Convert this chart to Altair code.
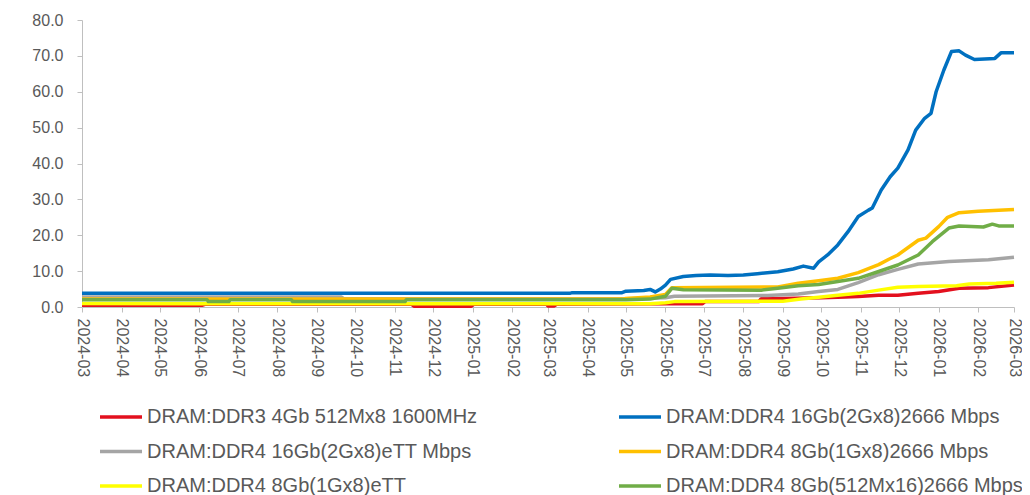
import altair as alt
import pandas as pd

SERIES = [
    "DRAM:DDR3 4Gb 512Mx8 1600MHz",
    "DRAM:DDR4 16Gb(2Gx8)2666 Mbps",
    "DRAM:DDR4 16Gb(2Gx8)eTT Mbps",
    "DRAM:DDR4 8Gb(1Gx8)2666 Mbps",
    "DRAM:DDR4 8Gb(1Gx8)eTT",
    "DRAM:DDR4 8Gb(512Mx16)2666 Mbps",
]
COLORS = ["#E3101E", "#0070C0", "#A5A5A5", "#FFC000", "#FFFF00", "#70AD47"]
# legend is filled column by column, so list entries so that rows read pairwise
LEGEND_ORDER = [0, 2, 4, 1, 3, 5]

# DDR3 4Gb 512Mx8 1600MHz
RED_DATES = ["2024-03-01", "2024-06-03", "2024-06-06", "2024-11-14", "2024-11-16", "2024-12-31",
             "2025-01-02", "2025-02-28", "2025-03-01", "2025-03-06", "2025-03-08", "2025-06-02",
             "2025-06-04", "2025-06-30", "2025-07-02", "2025-08-13", "2025-08-15", "2025-09-01",
             "2025-10-01", "2025-10-20", "2025-10-30", "2025-11-15", "2025-11-30", "2025-12-16",
             "2026-01-01", "2026-01-17", "2026-02-09", "2026-03-01"]
RED_VALUES = [0.5, 0.5, 0.8, 0.8, 0.2, 0.2,
              0.8, 0.8, 0.3, 0.3, 0.8, 0.9,
              0.9, 0.9, 1.5, 1.5, 2.3, 2.4,
              2.6, 2.8, 2.9, 3.3, 3.3, 3.8,
              4.3, 5.2, 5.4, 6.1]

# DDR4 16Gb(2Gx8)2666 Mbps
BLUE_DATES = ["2024-03-01", "2025-03-18", "2025-03-20", "2025-04-28", "2025-05-01", "2025-05-15",
              "2025-05-20", "2025-05-24", "2025-05-28", "2025-06-01", "2025-06-05", "2025-06-15",
              "2025-06-25", "2025-07-06", "2025-07-20", "2025-08-01", "2025-08-12", "2025-08-28",
              "2025-09-09", "2025-09-17", "2025-09-25", "2025-09-29", "2025-10-06", "2025-10-14",
              "2025-10-22", "2025-10-30", "2025-11-07", "2025-11-10", "2025-11-17", "2025-11-24",
              "2025-11-30", "2025-12-08", "2025-12-14", "2025-12-21", "2025-12-26", "2025-12-30",
              "2026-01-05", "2026-01-11", "2026-01-17", "2026-01-22", "2026-01-29", "2026-02-14",
              "2026-02-19", "2026-03-01"]
BLUE_VALUES = [3.8, 3.8, 4.0, 4.0, 4.4, 4.6,
               4.9, 4.2, 5.0, 6.1, 7.7, 8.5,
               8.8, 8.9, 8.8, 8.9, 9.3, 9.8,
               10.6, 11.4, 10.8, 12.6, 14.5, 17.3,
               21.0, 25.2, 27.0, 27.6, 32.6, 36.3,
               38.7, 43.8, 49.3, 52.6, 54.0, 60.0,
               66.0, 71.2, 71.4, 70.2, 69.0, 69.3,
               70.9, 70.9]

# DDR4 16Gb(2Gx8)eTT Mbps
GRAY_DATES = ["2024-03-01", "2024-09-20", "2024-09-22", "2025-05-01", "2025-06-01", "2025-06-08",
              "2025-08-20", "2025-09-13", "2025-09-29", "2025-10-14", "2025-10-30", "2025-11-15",
              "2025-11-30", "2025-12-16", "2026-01-09", "2026-02-09", "2026-03-01"]
GRAY_VALUES = [2.8, 2.8, 2.3, 2.3, 2.6, 3.0,
               3.2, 3.6, 4.3, 4.9, 6.8, 9.0,
               10.5, 12.0, 12.7, 13.2, 13.9]

# DDR4 8Gb(1Gx8)2666 Mbps
ORANGE_DATES = ["2024-03-01", "2025-04-28", "2025-05-01", "2025-05-20", "2025-06-01", "2025-06-06",
                "2025-08-28", "2025-09-13", "2025-09-29", "2025-10-14", "2025-10-30", "2025-11-15",
                "2025-11-23", "2025-11-30", "2025-12-16", "2025-12-22", "2026-01-01", "2026-01-08",
                "2026-01-17", "2026-02-01", "2026-03-01"]
ORANGE_VALUES = [2.2, 2.2, 2.4, 2.8, 3.5, 5.4,
                 5.6, 6.6, 7.3, 8.0, 9.6, 11.8,
                 13.3, 14.5, 18.6, 19.2, 22.4, 25.0,
                 26.3, 26.7, 27.2]

# DDR4 8Gb(1Gx8)eTT
YELLOW_DATES = ["2024-03-01", "2024-06-05", "2025-05-20", "2025-06-01", "2025-06-08", "2025-09-01",
                "2025-09-15", "2025-09-29", "2025-10-14", "2025-10-30", "2025-11-15", "2025-11-30",
                "2025-12-16", "2026-01-15", "2026-01-25", "2026-02-15", "2026-03-01"]
YELLOW_VALUES = [1.0, 0.9, 0.9, 1.2, 1.5, 1.6,
                 2.2, 2.7, 3.3, 3.8, 4.7, 5.5,
                 5.7, 5.9, 6.4, 6.6, 6.9]

# DDR4 8Gb(512Mx16)2666 Mbps
GREEN_DATES = ["2024-03-01", "2024-06-07", "2024-06-08", "2024-06-24", "2024-06-25", "2024-08-12",
               "2024-08-13", "2024-11-09", "2024-11-10", "2025-05-01", "2025-05-20", "2025-06-01",
               "2025-06-06", "2025-06-15", "2025-08-15", "2025-08-28", "2025-09-13", "2025-09-29",
               "2025-10-14", "2025-10-30", "2025-11-15", "2025-11-30", "2025-12-16", "2025-12-27",
               "2026-01-09", "2026-01-17", "2026-02-05", "2026-02-12", "2026-02-17", "2026-03-01"]
GREEN_VALUES = [2.0, 2.0, 1.5, 1.5, 2.0, 2.0,
                1.5, 1.5, 2.0, 2.0, 2.2, 3.0,
                5.2, 4.8, 4.7, 5.2, 5.9, 6.3,
                7.1, 8.0, 9.9, 11.7, 14.5, 18.2,
                22.0, 22.6, 22.3, 23.1, 22.6, 22.6]

ALL = [
    (RED_DATES, RED_VALUES),
    (BLUE_DATES, BLUE_VALUES),
    (GRAY_DATES, GRAY_VALUES),
    (ORANGE_DATES, ORANGE_VALUES),
    (YELLOW_DATES, YELLOW_VALUES),
    (GREEN_DATES, GREEN_VALUES),
]

rows = []
for name, (dates, vals) in zip(SERIES, ALL):
    for d, v in zip(dates, vals):
        rows.append({"series": name, "date": d, "value": v})
df = pd.DataFrame(rows)

FONT = "Liberation Sans"
TEXT = "#595959"
AXIS = "#BFBFBF"

legend_domain = [SERIES[i] for i in LEGEND_ORDER]
legend_range = [COLORS[i] for i in LEGEND_ORDER]

x_enc = alt.X(
    "date:T",
    scale=alt.Scale(domain=[alt.DateTime(year=2024, month=3, date=1),
                            alt.DateTime(year=2026, month=3, date=1)]),
    axis=alt.Axis(format="%Y-%m", tickCount={"interval": "month", "step": 1},
                  labelAngle=90, title=None, grid=False, labelPadding=6,
                  labelOverlap=False, labelFlush=False),
)
y_enc = alt.Y(
    "value:Q",
    scale=alt.Scale(domain=[0, 80], nice=False),
    axis=alt.Axis(values=list(range(0, 81, 10)), format=".1f", title=None,
                  grid=False, labelPadding=14),
)
color_enc = alt.Color(
    "series:N",
    scale=alt.Scale(domain=legend_domain, range=legend_range),
    legend=alt.Legend(title=None, orient="none", legendX=16, legendY=374,
                      columns=2, columnPadding=134, rowPadding=1.5,
                      symbolType="stroke", symbolSize=1764, symbolStrokeWidth=3.5,
                      labelFont=FONT, labelFontSize=20, labelColor=TEXT,
                      labelOffset=3, labelLimit=600),
)

base = alt.Chart(df).mark_line(strokeWidth=3.5, strokeJoin="round").encode(
    x=x_enc, y=y_enc, color=color_enc
)
layers = [base.transform_filter(alt.datum.series == s) for s in SERIES]

chart = alt.layer(*layers).properties(
    width=932, height=287,
    padding={"left": 74, "top": 12, "right": 8, "bottom": 188},
    autosize=alt.AutoSizeParams(type="none"),
).configure_view(stroke=None).configure_axis(
    labelFont=FONT, labelFontSize=16, labelColor=TEXT,
    domainColor=AXIS, tickColor=AXIS, tickSize=5, domainWidth=1,
)

chart.save("out.html", embed_options={"renderer": "svg", "actions": False})
